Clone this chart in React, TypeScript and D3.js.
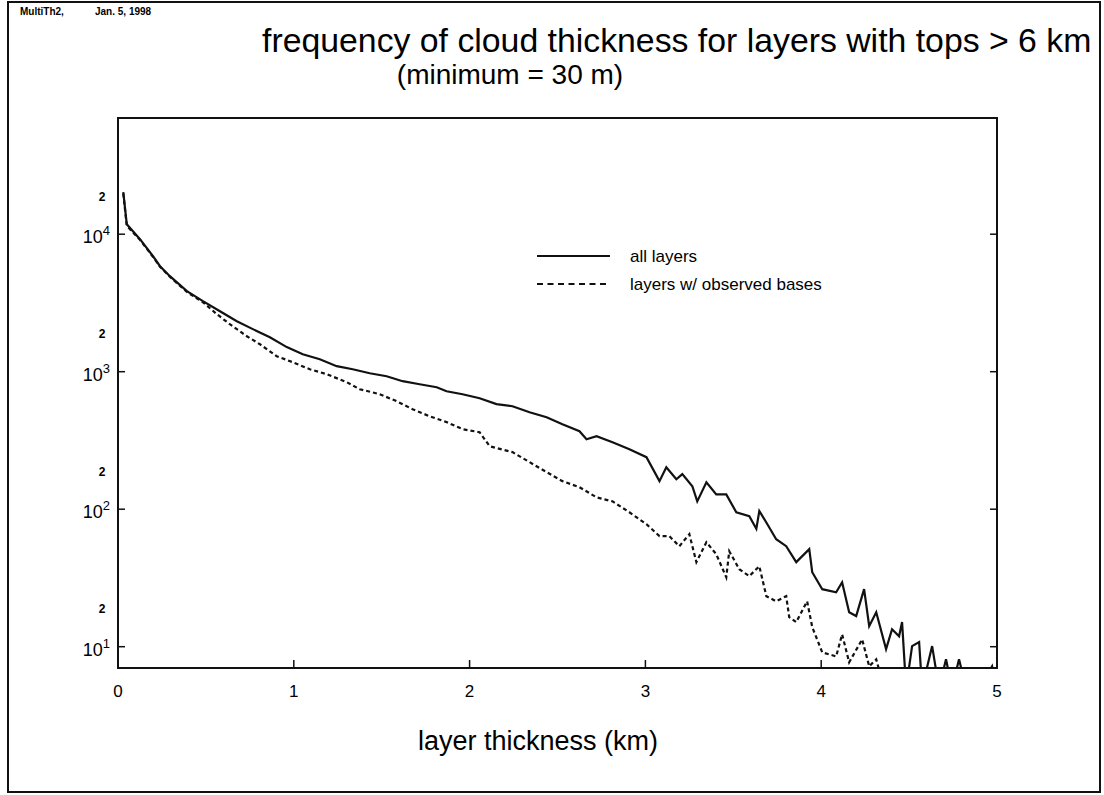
import React, { useRef, useEffect } from 'react';
import * as d3 from 'd3';

// layer thickness (km) and frequency
const allX = [0.03, 0.05, 0.125, 0.199, 0.239, 0.295, 0.392, 0.483, 0.58, 0.676, 0.767, 0.864, 0.96, 1.051, 1.148, 1.244, 1.335, 1.432, 1.528, 1.619, 1.716, 1.813, 1.869, 1.96, 2.057, 2.153, 2.244, 2.341, 2.438, 2.528, 2.625, 2.665, 2.722, 2.813, 2.909, 3.006, 3.08, 3.119, 3.176, 3.21, 3.267, 3.295, 3.347, 3.403, 3.46, 3.517, 3.591, 3.631, 3.648, 3.688, 3.744, 3.801, 3.858, 3.932, 3.949, 4.006, 4.085, 4.119, 4.159, 4.199, 4.244, 4.273, 4.313, 4.369, 4.403, 4.443, 4.46, 4.483, 4.517, 4.557, 4.574, 4.631, 4.67, 4.71, 4.744, 4.784, 4.824, 4.898, 4.972, 4.994];
const allY = [20200, 11800, 9200, 6920, 5850, 4950, 3850, 3260, 2755, 2330, 2040, 1780, 1510, 1340, 1233, 1097, 1042, 975, 927, 853, 811, 771, 721, 686, 641, 581, 561, 507, 467, 415, 369, 323, 340, 307, 273, 239, 160, 202, 165, 180, 147, 114, 157, 128, 128, 95, 89, 72, 97, 80, 60.5, 53.8, 41.2, 51.2, 34.8, 26.2, 24.9, 29.4, 17.8, 16.7, 26.2, 14.1, 17.8, 9.6, 13.4, 11.9, 15.1, 5, 10.1, 10.8, 5, 10.1, 5, 8.1, 5, 8.1, 5, 5, 7.2, 5];

const obsX = [0.03, 0.05, 0.125, 0.199, 0.239, 0.295, 0.392, 0.483, 0.5625, 0.636, 0.733, 0.807, 0.903, 0.994, 1.091, 1.188, 1.301, 1.375, 1.489, 1.585, 1.676, 1.773, 1.869, 1.96, 2.057, 2.114, 2.244, 2.341, 2.438, 2.528, 2.625, 2.722, 2.813, 2.909, 3.006, 3.08, 3.136, 3.193, 3.25, 3.29, 3.347, 3.403, 3.46, 3.477, 3.534, 3.591, 3.648, 3.688, 3.744, 3.801, 3.818, 3.858, 3.92, 3.949, 4.006, 4.085, 4.119, 4.159, 4.233, 4.273, 4.313, 4.358];
const obsY = [19800, 11500, 9100, 6850, 5800, 4900, 3800, 3200, 2620, 2215, 1810, 1585, 1297, 1172, 1042, 959, 839, 746, 686, 610, 533, 474, 430, 382, 363, 287, 260, 220, 186, 160, 144.6, 122, 114, 95, 77.8, 63.7, 63.7, 53.8, 65.8, 41.2, 57.5, 47.1, 32, 49.5, 36.6, 32.6, 38.5, 23.3, 21.4, 23.3, 16.4, 15.1, 21.4, 13.9, 9.1, 8.5, 12.3, 7.7, 11.3, 7.2, 8.1, 5];

const xTicks = [0, 1, 2, 3, 4, 5];
const yDecades = [10, 100, 1000, 10000];
const yTwos = [20, 200, 2000, 20000];

const FONT = '"Liberation Sans", Arial, Helvetica, sans-serif';

const App = () => {
  const svgRef = useRef<SVGSVGElement>(null);

  useEffect(() => {
    document.body.style.margin = '0';
    const svg = d3.select(svgRef.current);
    svg.selectAll('*').remove();

    const left = 118, right = 997, top = 118, bottom = 668;
    const x = d3.scaleLinear().domain([0, 5]).range([left, right]);
    const y = d3.scaleLog().domain([7, 70000]).range([bottom, top]);

    svg.append('rect').attr('width', 1104).attr('height', 795).attr('fill', 'white');

    // outer page frame
    svg.append('rect')
      .attr('x', 8).attr('y', 2).attr('width', 1092).attr('height', 790)
      .attr('fill', 'none').attr('stroke', '#111').attr('stroke-width', 2);

    svg.append('text').attr('x', 20).attr('y', 15)
      .style('font-family', FONT).style('font-size', '10px').style('font-weight', 'bold')
      .text('MultiTh2,');
    svg.append('text').attr('x', 95).attr('y', 15)
      .style('font-family', FONT).style('font-size', '10px').style('font-weight', 'bold')
      .text('Jan. 5, 1998');

    svg.append('text').attr('x', 262).attr('y', 52)
      .style('font-family', FONT).style('font-size', '33.8px')
      .text('frequency of cloud thickness for layers with tops > 6 km');
    svg.append('text').attr('x', 510).attr('y', 84).attr('text-anchor', 'middle')
      .style('font-family', FONT).style('font-size', '28px')
      .text('(minimum = 30 m)');

    svg.append('defs').append('clipPath').attr('id', 'plotclip')
      .append('rect').attr('x', left).attr('y', top)
      .attr('width', right - left).attr('height', bottom - top);

    const line = d3.line<[number, number]>()
      .x(d => x(d[0]))
      .y(d => y(d[1]));

    const g = svg.append('g').attr('clip-path', 'url(#plotclip)');
    g.append('path')
      .datum(allX.map((v, i) => [v, allY[i]] as [number, number]))
      .attr('d', line)
      .attr('fill', 'none').attr('stroke', '#111').attr('stroke-width', 2.2);
    g.append('path')
      .datum(obsX.map((v, i) => [v, obsY[i]] as [number, number]))
      .attr('d', line)
      .attr('fill', 'none').attr('stroke', '#111').attr('stroke-width', 2.2)
      .attr('stroke-dasharray', '4,3');

    // plot frame
    svg.append('rect')
      .attr('x', left).attr('y', top).attr('width', right - left).attr('height', bottom - top)
      .attr('fill', 'none').attr('stroke', '#111').attr('stroke-width', 2);

    // x ticks
    svg.selectAll('.xt').data(xTicks.slice(1, -1)).enter().append('line')
      .attr('x1', d => x(d)).attr('x2', d => x(d))
      .attr('y1', bottom).attr('y2', bottom - 8)
      .attr('stroke', '#111').attr('stroke-width', 1.5);
    svg.selectAll('.xl').data(xTicks).enter().append('text')
      .attr('x', d => x(d)).attr('y', 697).attr('text-anchor', 'middle')
      .style('font-family', FONT).style('font-size', '17px')
      .text(d => String(d));

    svg.append('text').attr('x', 538).attr('y', 750).attr('text-anchor', 'middle')
      .style('font-family', FONT).style('font-size', '27px')
      .text('layer thickness (km)');

    // y ticks, both sides
    yDecades.forEach(v => {
      svg.append('line').attr('x1', left).attr('x2', left + 7)
        .attr('y1', y(v)).attr('y2', y(v)).attr('stroke', '#111').attr('stroke-width', 1.5);
      svg.append('line').attr('x1', right - 7).attr('x2', right)
        .attr('y1', y(v)).attr('y2', y(v)).attr('stroke', '#111').attr('stroke-width', 1.5);
      const t = svg.append('text').attr('x', 110).attr('y', y(v) + 9).attr('text-anchor', 'end')
        .style('font-family', FONT).style('font-size', '18px');
      t.append('tspan').text('10');
      t.append('tspan').attr('dy', -8).style('font-size', '13px').text(String(Math.round(Math.log10(v))));
    });
    yTwos.forEach(v => {
      svg.append('text').attr('x', 102).attr('y', y(v) + 8).attr('text-anchor', 'middle')
        .style('font-family', FONT).style('font-size', '12px').style('font-weight', 'bold')
        .text('2');
    });

    // legend
    svg.append('line').attr('x1', 537).attr('x2', 610).attr('y1', 256).attr('y2', 256)
      .attr('stroke', '#111').attr('stroke-width', 2);
    svg.append('text').attr('x', 630).attr('y', 262)
      .style('font-family', FONT).style('font-size', '17px').text('all layers');
    svg.append('line').attr('x1', 537).attr('x2', 610).attr('y1', 284).attr('y2', 284)
      .attr('stroke', '#111').attr('stroke-width', 2).attr('stroke-dasharray', '6,4.5');
    svg.append('text').attr('x', 630).attr('y', 290)
      .style('font-family', FONT).style('font-size', '17px').text('layers w/ observed bases');
  }, []);

  return <svg ref={svgRef} width={1104} height={795} style={{ display: 'block' }} />;
};

export default App;
